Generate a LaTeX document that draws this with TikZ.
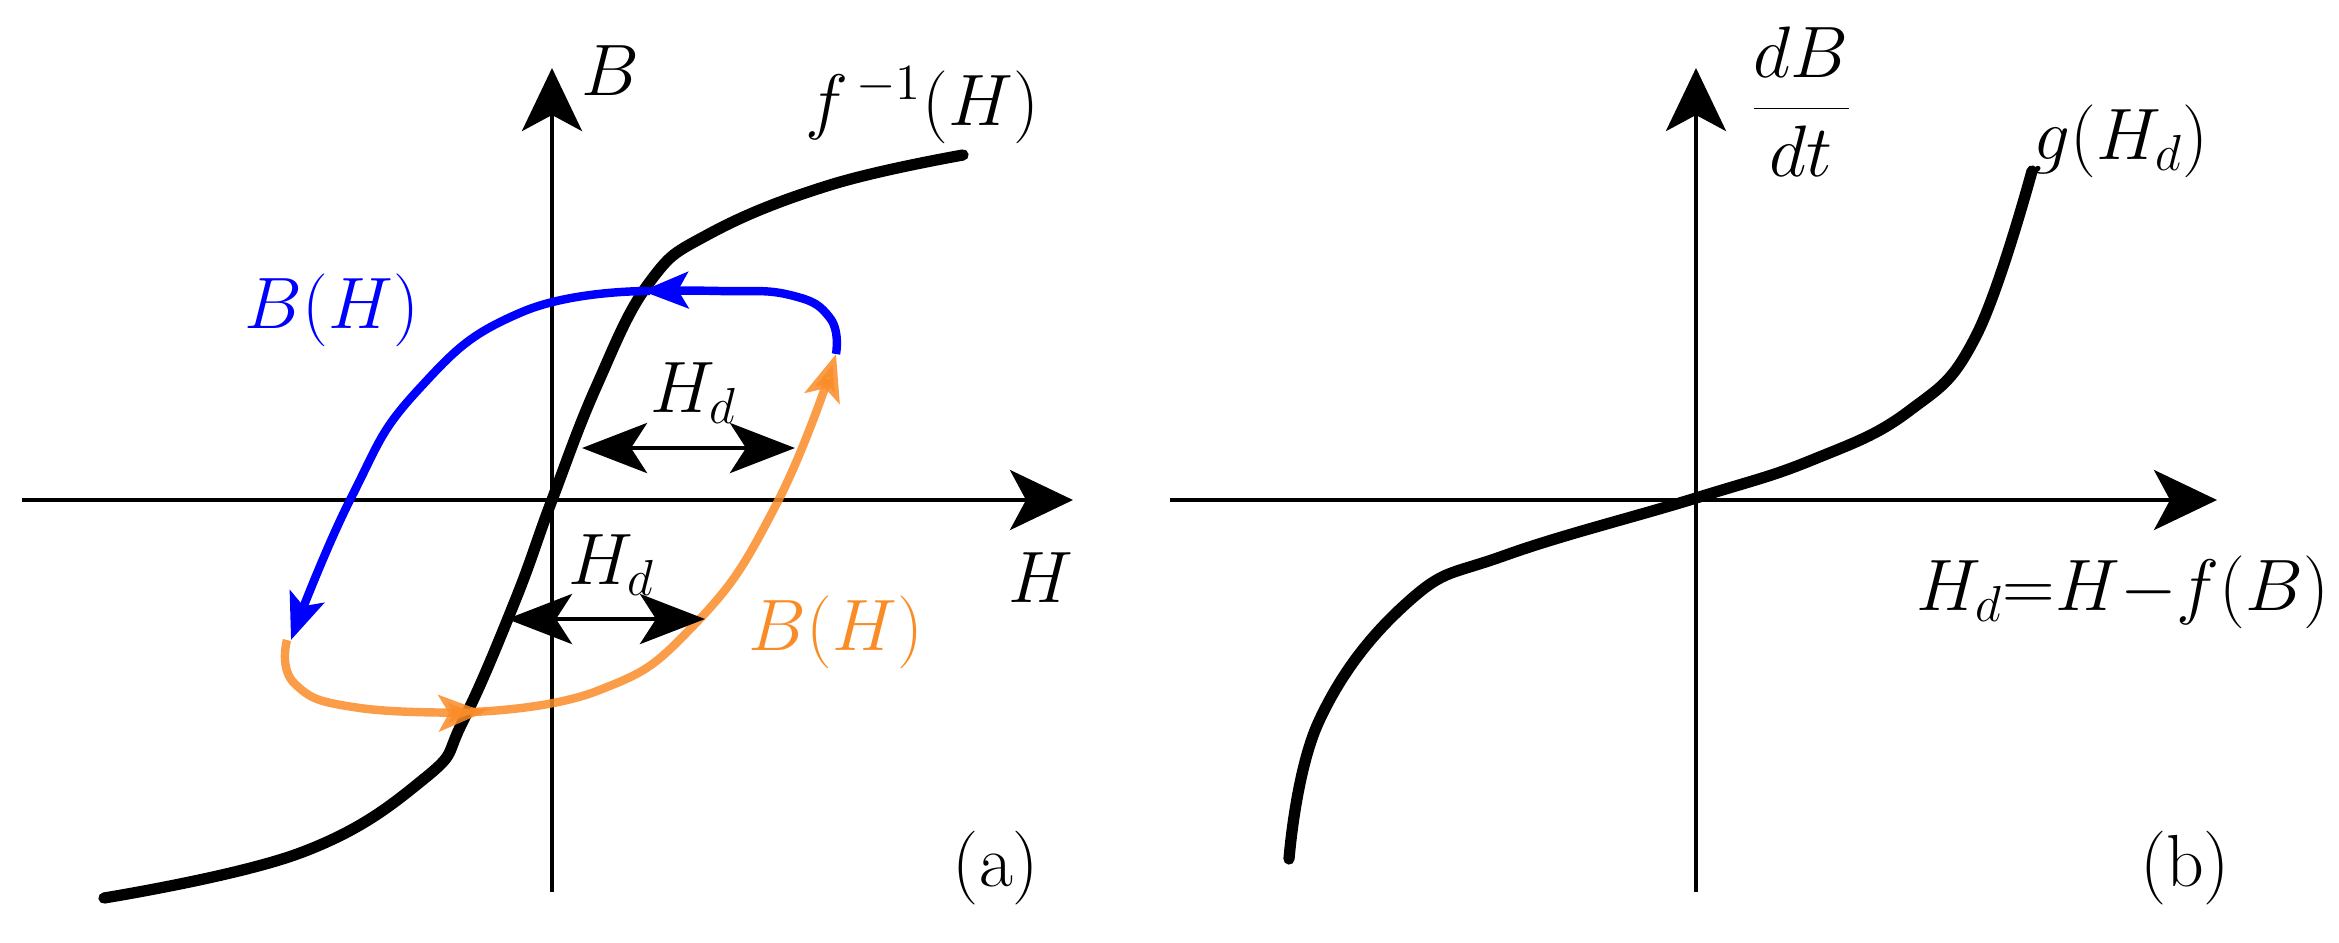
\documentclass[tikz,border=0pt]{standalone}
\usetikzlibrary{arrows.meta}
\definecolor{myorange}{RGB}{250,140,40}
\begin{document}
\begin{tikzpicture}[x=0.1mm,y=-0.1mm,
  axis/.style={line width=1.2pt,-{Stealth[length=6.3mm,width=6mm,inset=1.6mm]}},
  curve/.style={line width=3.2pt,line cap=round},
  loopb/.style={line width=2.4pt,blue,-{Stealth[length=4.6mm,width=3.6mm,inset=1mm]}},
  loopo/.style={line width=2.4pt,myorange,opacity=0.85,-{Stealth[length=4.6mm,width=3.6mm,inset=1mm]}},
  hd/.style={line width=1.4pt,{Stealth[length=6.5mm,width=5mm,inset=1.6mm]}-{Stealth[length=6.5mm,width=5mm,inset=1.6mm]}},
  lbl/.style={font=\fontsize{21}{26}\selectfont, inner sep=0pt}]
\useasboundingbox (0,0) rectangle (2339,942);
% panel (a)
\coordinate (ha0) at (22,500); \coordinate (ha1) at (1073,500);
\coordinate (va0) at (552,892); \coordinate (va1) at (552,68);
\draw[axis] (ha0) -- (ha1);
\draw[axis] (va0) -- (va1);
\draw[curve] plot[smooth,tension=0.7] coordinates {(104,898) (300,853) (425,778) (463,721) (515,601) (552,500) (597,385) (649,283) (709,234) (830,185) (963,155)};
\draw[loopb] plot[smooth,tension=0.8] coordinates {(836,354) (830,318) (790,295) (720,291) (642,291)};
\draw[loopb] plot[smooth,tension=0.8] coordinates {(650,291) (522,312) (418,390) (351,498) (291,640)};
\draw[loopo] plot[smooth,tension=0.8] coordinates {(287,640) (295,684) (360,708) (485,712)};
\draw[loopo] plot[smooth,tension=0.8] coordinates {(470,712) (597,691) (694,625) (776,505) (836,354)};
\coordinate (hu0) at (582,448); \coordinate (hu1) at (795,448);
\coordinate (hl0) at (507,619); \coordinate (hl1) at (705,619);
\draw[hd] (hu0) -- (hu1);
\draw[hd] (hl0) -- (hl1);
\node[lbl] (tHu) at (694,393) {$H_d$};
\node[lbl] (tHl) at (612,565) {$H_d$};
\node[lbl] (tB) at (610,71) {$B$};
\node[lbl] (tf) at (922,105) {$f^{\,-1}(H)$};
\node[lbl,text=blue] (tbh) at (332,310) {$B(H)$};
\node[lbl,text=myorange] (toh) at (836,632) {$B(H)$};
\node[lbl] (tH) at (1041,578) {$H$};
\node[lbl] (ta) at (996,868) {(a)};
% panel (b)
\coordinate (hb0) at (1170,500); \coordinate (hb1) at (2217,500);
\coordinate (vb0) at (1696,892); \coordinate (vb1) at (1696,68);
\draw[axis] (hb0) -- (hb1);
\draw[axis] (vb0) -- (vb1);
\draw[curve] plot[smooth,tension=0.7] coordinates {(1289,859) (1319,721) (1409,601) (1506,555) (1696,498) (1812,460) (1909,411) (1976,336) (2032,171)};
\node[lbl] (tdb) at (1801,102) {$\displaystyle\frac{dB}{dt}$};
\node[lbl] (tg) at (2121,141) {$g(H_d)$};
\node[lbl,anchor=east] (thd) at (2330,592) {$H_d{=}H{-}f(B)$};
\node[lbl] (tb) at (2185,868) {(b)};
\end{tikzpicture}
\end{document}
